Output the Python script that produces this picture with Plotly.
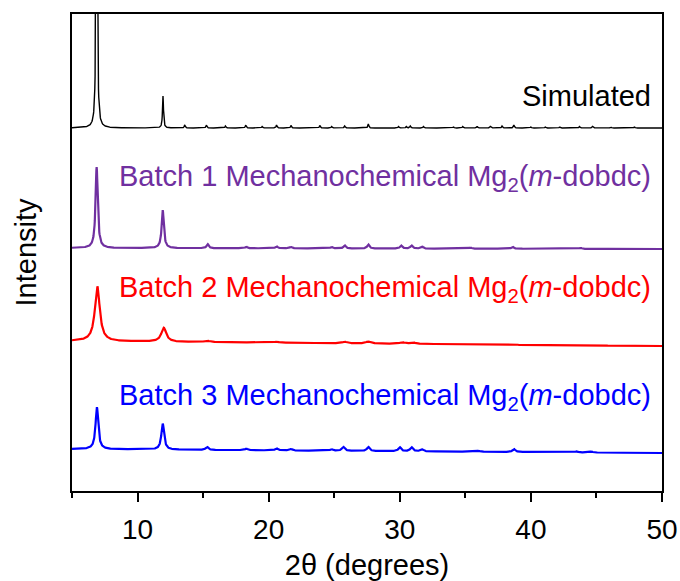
import numpy as np
import plotly.graph_objects as go

# 2-theta grid (degrees)
two_theta = np.arange(5.0, 50.0001, 0.02)

# Peak lists: position (deg), height (a.u.), FWHM (deg)
sim_pos = [6.88, 11.94, 13.6, 15.25, 16.7, 18.25, 19.5, 20.6, 21.7, 23.9, 24.8, 25.8,
           27.6, 29.9, 30.5, 30.8, 31.8, 34.1, 34.8, 35.9, 36.9, 37.8, 38.7, 40.0,
           41.1, 42.2, 43.7, 44.7, 46.1, 47.9]
sim_height = [420, 32, 3, 3, 2, 3, 1.5, 3, 2.5, 2.5, 1.5, 2,
              4, 1.5, 1.5, 2, 1.5, 1, 1.5, 1.5, 1.5, 2, 3, 1,
              1, 1, 1.5, 1.5, 1, 1]
sim_fwhm = 0.09

b1_pos = [6.88, 11.92, 15.35, 18.3, 20.6, 21.7, 24.8, 25.8, 27.6, 30.1, 30.9, 31.7,
          35.4, 38.6, 43.8]
b1_height = [81, 38, 4, 1.5, 2, 1.5, 1.5, 3, 4, 3, 3, 2, 1, 2, 1]
b1_fwhm = 0.2

b2_pos = [6.93, 12.0, 15.3, 20.6, 25.8, 27.6, 30.2, 31.0]
b2_height = [55, 14, 1.5, 1, 1.5, 2, 1.5, 1.5]
b2_fwhm = 0.45

b3_pos = [6.9, 11.92, 15.3, 18.3, 20.6, 21.7, 24.8, 25.7, 27.6, 30.0, 30.9, 31.7,
          36.0, 38.7, 43.5, 44.6]
b3_height = [42, 26, 3, 1.5, 2, 1.5, 1.5, 4, 4, 4, 4, 2, 1, 3, 1, 1]
b3_fwhm = 0.25

# Vertical offsets (baseline at 5 deg and at 50 deg)
sim_base = [363, 363]
b1_base = [243, 242]
b2_base = [150, 145]
b3_base = [42, 38]

names = ["Simulated", "Batch 1", "Batch 2", "Batch 3"]
colors = ["#000000", "#7030A0", "#FF0000", "#0000FF"]
labels = [
    "Simulated",
    "Batch 1 Mechanochemical Mg<sub>2</sub>(<i>m</i>-dobdc)",
    "Batch 2 Mechanochemical Mg<sub>2</sub>(<i>m</i>-dobdc)",
    "Batch 3 Mechanochemical Mg<sub>2</sub>(<i>m</i>-dobdc)",
]
label_y = [395, 313, 202, 94]


def pattern(pos, height, fwhm, base):
    """Sum of Lorentzian peaks on a linear baseline."""
    g = fwhm / 2.0
    y = base[0] + (base[1] - base[0]) * (two_theta - 5.0) / 45.0
    for p, h in zip(pos, height):
        y = y + h * g ** 2 / ((two_theta - p) ** 2 + g ** 2)
    return y


series = [
    (sim_pos, sim_height, sim_fwhm, sim_base, 1.4),
    (b1_pos, b1_height, b1_fwhm, b1_base, 2.2),
    (b2_pos, b2_height, b2_fwhm, b2_base, 2.2),
    (b3_pos, b3_height, b3_fwhm, b3_base, 2.2),
]

fig = go.Figure()
for (pos, h, w, base, lw), name, col in zip(series, names, colors):
    fig.add_trace(go.Scatter(
        x=two_theta, y=pattern(pos, h, w, base), mode="lines", name=name,
        line=dict(color=col, width=lw), showlegend=False,
    ))

font = "Liberation Sans, Arial, sans-serif"
for text, yv, col in zip(labels, label_y, colors):
    fig.add_annotation(
        x=49.3, y=yv, xref="x", yref="y", text=text, showarrow=False,
        xanchor="right", yanchor="middle",
        font=dict(family=font, size=29, color=col),
    )

fig.update_layout(
    width=680, height=581,
    margin=dict(l=72, r=18, t=14, b=90),
    paper_bgcolor="white", plot_bgcolor="white",
    font=dict(family=font, size=28, color="black"),
)
fig.update_xaxes(
    range=[5, 50], tickvals=[10, 20, 30, 40, 50], automargin=False,
    ticks="outside", ticklen=9, tickwidth=2, tickcolor="black",
    ticklabelstandoff=3,
    minor=dict(tickvals=[5, 15, 25, 35, 45], ticks="outside", ticklen=5,
               tickwidth=2, tickcolor="black"),
    showline=True, linewidth=2, linecolor="black", mirror=True,
    showgrid=False, zeroline=False,
    tickfont=dict(size=28), title=dict(text="2θ (degrees)", font=dict(size=29), standoff=14),
)
fig.update_yaxes(
    range=[0, 477], showticklabels=False, ticks="", automargin=False,
    showline=True, linewidth=2, linecolor="black", mirror=True,
    showgrid=False, zeroline=False,
    title=dict(text="Intensity", font=dict(size=29), standoff=25),
)

fig.write_html("out.html")
